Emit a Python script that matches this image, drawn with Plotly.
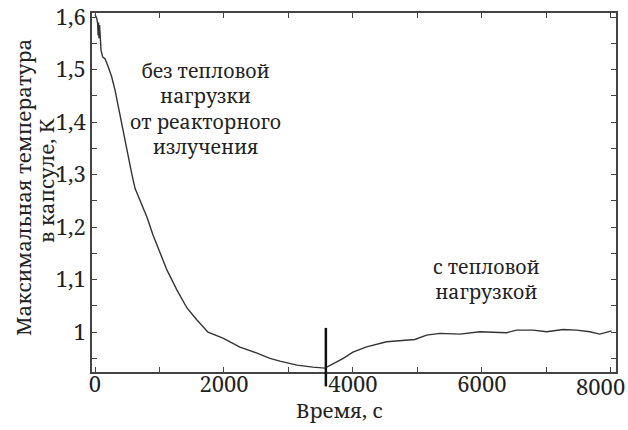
import plotly.graph_objects as go

# Time, s
time_s = [0, 26, 40, 48, 55, 62, 70, 78, 93, 119, 155, 206, 259, 310, 361, 414, 465, 516, 569, 620,
          671, 698, 806, 899, 1008, 1116, 1271, 1426, 1581, 1752, 1984, 2248, 2512, 2713, 2868,
          3132, 3380, 3566, 3850, 4000, 4212, 4522, 4961, 5142, 5349, 5659, 5969, 6171, 6382,
          6537, 6796, 7003, 7261, 7468, 7674, 7829, 8010]
# Max temperature in capsule, K
temp_k = [1.605, 1.598, 1.588, 1.565, 1.590, 1.560, 1.585, 1.560, 1.537, 1.524, 1.521, 1.505,
          1.486, 1.461, 1.429, 1.397, 1.364, 1.333, 1.302, 1.274, 1.258, 1.251, 1.219, 1.185,
          1.150, 1.118, 1.080, 1.046, 1.023, 1.000, 0.9886, 0.9714, 0.960, 0.950, 0.9448,
          0.937, 0.9333, 0.9314, 0.950, 0.9619, 0.972, 0.9816, 0.986, 0.9943, 0.9975, 0.9962,
          1.0006, 1.000, 0.9987, 1.0038, 1.0038, 1.0006, 1.005, 1.0038, 1.0006, 0.9962, 1.0025]

marker_time = 3580
marker_top = 1.008

x_tick_vals = [0, 2000, 4000, 6000, 8000]
x_tick_text = ["0", "2000", "4000", "6000", "8000"]
y_tick_vals = [1.0, 1.1, 1.2, 1.3, 1.4, 1.5, 1.6]
y_tick_text = ["1", "1,1", "1,2", "1,3", "1,4", "1,5", "1,6"]

FONT = "Noto Serif"
AX = "#444444"
TXT = "#222222"

fig = go.Figure()
fig.add_trace(go.Scatter(x=time_s, y=temp_k, mode="lines",
                         line=dict(color="#333333", width=1.4), showlegend=False,
                         hoverinfo="skip"))

fig.add_shape(type="line", xref="x", yref="y", x0=marker_time, x1=marker_time,
              y0=marker_top, y1=0.924, line=dict(color="#111111", width=2.5))
fig.add_shape(type="line", xref="x", yref="paper", x0=marker_time, x1=marker_time,
              y0=0.0, y1=-0.04, line=dict(color="#111111", width=2.5))

axis_common = dict(showline=True, linecolor=AX, linewidth=1.5, mirror="ticks",
                   ticks="inside", ticklen=5, tickwidth=1.2, tickcolor=AX,
                   showgrid=False, zeroline=False, automargin=False,
                   tickfont=dict(family=FONT, size=22, color=TXT))

# last x label is drawn shifted left (as in the reference) so it stays inside the figure
x_axis_text = x_tick_text[:-1] + [""]
fig.update_xaxes(range=[-47, 8080], tickvals=x_tick_vals, ticktext=x_axis_text,
                 ticklabelstandoff=-8,
                 minor=dict(dtick=1000, tick0=0, ticks="inside", ticklen=5, tickcolor=AX, tickwidth=1.2),
                 **axis_common)
fig.update_yaxes(range=[0.924, 1.608], tickvals=y_tick_vals, ticktext=y_tick_text,
                 minor=dict(dtick=0.05, tick0=0.95, ticks="inside", ticklen=5, tickcolor=AX, tickwidth=1.2),
                 **axis_common)

tf = dict(family=FONT, size=20.5, color=TXT)
tf_block = dict(family=FONT, size=19.5, color=TXT)
ann = []
ann.append(dict(text=x_tick_text[-1], xref="paper", yref="paper", x=1 + 11 / 524, y=(372 - 386) / 359,
                showarrow=False, font=dict(family=FONT, size=22, color=TXT),
                xanchor="right", yanchor="middle"))
# x title
ann.append(dict(text="Время, с", xref="paper", yref="paper", x=(339 - 92) / 524, y=(372 - 410) / 359,
                showarrow=False, font=tf, xanchor="center", yanchor="middle"))
# y title (two lines)
ann.append(dict(text="Максимальная температура", xref="paper", yref="paper",
                x=(23 - 92) / 524, y=(372 - 188) / 359, showarrow=False, font=tf,
                textangle=-90, xanchor="center", yanchor="middle"))
ann.append(dict(text="в капсуле, К", xref="paper", yref="paper",
                x=(46 - 92) / 524, y=(372 - 181) / 359, showarrow=False, font=tf,
                textangle=-90, xanchor="center", yanchor="middle"))
left_lines = ["без тепловой", "нагрузки", "от реакторного", "излучения"]
ann.append(dict(text="<br>".join(left_lines), xref="paper", yref="paper",
                x=(205 - 92) / 524, y=(372 - 109) / 359, showarrow=False, font=tf_block,
                align="center", xanchor="center", yanchor="middle"))
right_lines = ["с тепловой", "нагрузкой"]
ann.append(dict(text="<br>".join(right_lines), xref="paper", yref="paper",
                x=(486 - 92) / 524, y=(372 - 279) / 359, showarrow=False, font=tf_block,
                align="center", xanchor="center", yanchor="middle"))

fig.update_layout(width=628, height=430, margin=dict(l=92, r=12, t=13, b=58),
                  plot_bgcolor="white", paper_bgcolor="white", annotations=ann,
                  font=dict(family=FONT))

fig.write_html("out.html")
